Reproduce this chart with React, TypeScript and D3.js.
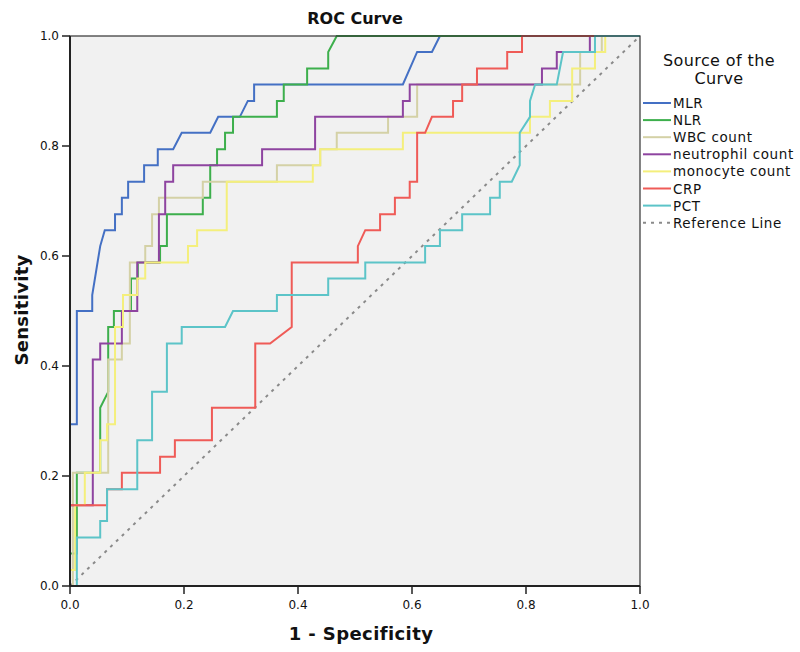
import React from "react";
import * as d3 from "d3";

type Pt = [number, number];

const seriesNames = ["MLR", "NLR", "WBC count", "neutrophil count", "monocyte count", "CRP", "PCT"];
const seriesColors = ["#4470C4", "#3DAF4C", "#D4D1A6", "#8E44A0", "#F4EF7C", "#EF5B57", "#5CC4C8"];

const mlr: Pt[] = [[0,0],[0,.294],[.012,.294],[.012,.5],[.039,.5],[.039,.529],[.053,.618],[.061,.647],[.079,.647],[.079,.676],[.091,.676],[.091,.706],[.102,.706],[.102,.735],[.130,.735],[.130,.765],[.154,.765],[.154,.794],[.181,.794],[.196,.824],[.246,.824],[.260,.853],[.298,.853],[.312,.882],[.323,.882],[.323,.912],[.584,.912],[.609,.971],[.635,.971],[.649,1],[1,1]];
const nlr: Pt[] = [[0,0],[0,.059],[.012,.059],[.012,.206],[.053,.206],[.053,.324],[.067,.353],[.067,.471],[.077,.471],[.077,.5],[.107,.5],[.107,.559],[.119,.559],[.119,.588],[.158,.588],[.158,.618],[.170,.618],[.170,.676],[.233,.676],[.233,.706],[.246,.706],[.246,.765],[.258,.765],[.258,.794],[.272,.794],[.272,.824],[.286,.824],[.286,.853],[.363,.853],[.363,.882],[.375,.882],[.375,.912],[.416,.912],[.416,.941],[.453,.941],[.453,.971],[.468,1],[1,1]];
const wbc: Pt[] = [[0,0],[.005,0],[.005,.206],[.067,.206],[.067,.412],[.091,.412],[.091,.441],[.105,.441],[.105,.588],[.132,.588],[.132,.618],[.144,.618],[.144,.676],[.156,.676],[.156,.706],[.233,.706],[.233,.735],[.363,.735],[.363,.765],[.439,.765],[.439,.794],[.468,.794],[.468,.824],[.558,.824],[.558,.853],[.609,.853],[.609,.912],[.895,.912],[.895,.971],[.933,.971],[.933,1],[1,1]];
const neutrophil: Pt[] = [[0,0],[0,.147],[.040,.147],[.040,.412],[.053,.412],[.053,.441],[.091,.441],[.091,.5],[.118,.5],[.118,.588],[.156,.588],[.156,.676],[.167,.676],[.167,.735],[.181,.735],[.181,.765],[.337,.765],[.337,.794],[.430,.794],[.430,.853],[.584,.853],[.584,.882],[.596,.882],[.596,.912],[.828,.912],[.828,.941],[.854,.941],[.854,.971],[.912,.971],[.912,1],[1,1]];
const monocyte: Pt[] = [[0,0],[0,.029],[.009,.029],[.009,.147],[.026,.147],[.026,.206],[.053,.206],[.053,.265],[.065,.265],[.065,.294],[.079,.294],[.079,.471],[.093,.471],[.093,.529],[.118,.529],[.118,.559],[.132,.559],[.132,.588],[.207,.588],[.207,.618],[.223,.618],[.223,.647],[.275,.647],[.275,.735],[.426,.735],[.426,.765],[.439,.765],[.439,.794],[.584,.794],[.584,.824],[.807,.824],[.807,.853],[.842,.853],[.842,.882],[.881,.882],[.881,.941],[.921,.941],[.921,.971],[.939,.971],[.939,1],[1,1]];
const crp: Pt[] = [[0,0],[0,.147],[.065,.147],[.065,.176],[.091,.176],[.091,.206],[.158,.206],[.158,.235],[.184,.235],[.184,.265],[.249,.265],[.249,.324],[.325,.324],[.325,.441],[.351,.441],[.389,.471],[.389,.588],[.505,.588],[.505,.618],[.518,.647],[.544,.647],[.544,.676],[.570,.676],[.570,.706],[.596,.706],[.596,.735],[.609,.735],[.609,.824],[.623,.824],[.635,.853],[.672,.853],[.672,.882],[.688,.882],[.688,.912],[.714,.912],[.714,.941],[.767,.941],[.767,.971],[.793,.971],[.793,1],[1,1]];
const pct: Pt[] = [[0,0],[.012,0],[.012,.088],[.053,.088],[.053,.118],[.065,.118],[.065,.176],[.118,.176],[.118,.265],[.144,.265],[.144,.353],[.170,.353],[.170,.441],[.196,.441],[.196,.471],[.272,.471],[.286,.5],[.363,.5],[.363,.529],[.453,.529],[.453,.559],[.518,.559],[.518,.588],[.623,.588],[.623,.618],[.649,.618],[.649,.647],[.688,.647],[.688,.676],[.737,.676],[.737,.706],[.754,.706],[.754,.735],[.775,.735],[.789,.765],[.789,.824],[.807,.853],[.807,.882],[.816,.912],[.854,.912],[.865,.971],[.921,.971],[.921,1],[1,1]];
const referenceLine: Pt[] = [[0,0],[1,1]];

const seriesData: Pt[][] = [mlr, nlr, wbc, neutrophil, monocyte, crp, pct];
const tickValues = [0, 0.2, 0.4, 0.6, 0.8, 1.0];

const W = 800, H = 652;
const plot = { left: 70, right: 640, top: 36, bottom: 586 };
const font = "'DejaVu Sans', Verdana, sans-serif";

export default function App() {
  const x = d3.scaleLinear().domain([0, 1]).range([plot.left, plot.right]);
  const y = d3.scaleLinear().domain([0, 1]).range([plot.bottom, plot.top]);
  const line = d3.line<Pt>().x(d => x(d[0])).y(d => y(d[1]));
  const legendX = 643;
  const legendY0 = 103;
  const legendStep = 17.1;

  return (
    <svg width={W} height={H} style={{ position: "absolute", left: 0, top: 0, background: "#fff" }}>
      <defs>
        <clipPath id="clip">
          <rect x={plot.left - 1} y={plot.top - 1} width={plot.right - plot.left + 2} height={plot.bottom - plot.top + 2} />
        </clipPath>
      </defs>
      <rect x={plot.left} y={plot.top} width={plot.right - plot.left} height={plot.bottom - plot.top} fill="#F1F1F1" />
      <text x={355} y={24} textAnchor="middle" fontFamily={font} fontWeight="bold" fontSize={16} fill="#111">ROC Curve</text>
      <g clipPath="url(#clip)">
        <path d={line(referenceLine) || ""} stroke="#8a8a8a" strokeWidth={2} strokeDasharray="3,5" fill="none" />
        {seriesData.map((s, i) => (
          <path key={i} d={line(s) || ""} stroke={seriesColors[i]} strokeWidth={2} fill="none" strokeLinejoin="miter" />
        ))}
      </g>
      <rect x={plot.left} y={plot.top} width={plot.right - plot.left} height={plot.bottom - plot.top} fill="none" stroke="#333" strokeWidth={1.2} />
      <line x1={plot.left} y1={plot.top} x2={plot.left} y2={plot.bottom} stroke="#222" strokeWidth={2} />
      <line x1={plot.left} y1={plot.bottom} x2={plot.right} y2={plot.bottom} stroke="#222" strokeWidth={2} />
      {tickValues.map(t => (
        <g key={"x" + t}>
          <line x1={x(t)} x2={x(t)} y1={plot.bottom} y2={plot.bottom + 8} stroke="#222" strokeWidth={1.5} />
          <text x={x(t)} y={609} textAnchor="middle" fontFamily={font} fontSize={12} fill="#111">{t.toFixed(1)}</text>
        </g>
      ))}
      {tickValues.map(t => (
        <g key={"y" + t}>
          <line x1={plot.left - 8} x2={plot.left} y1={y(t)} y2={y(t)} stroke="#222" strokeWidth={1.5} />
          <text x={plot.left - 11} y={y(t) + 4} textAnchor="end" fontFamily={font} fontSize={12} fill="#111">{t.toFixed(1)}</text>
        </g>
      ))}
      <text x={361} y={640} textAnchor="middle" fontFamily={font} fontWeight="bold" fontSize={18} letterSpacing={0.4} fill="#111">1 - Specificity</text>
      <text transform={`translate(28,310) rotate(-90)`} textAnchor="middle" fontFamily={font} fontWeight="bold" fontSize={18} letterSpacing={0.3} fill="#111">Sensitivity</text>
      <text x={719} y={66} textAnchor="middle" fontFamily={font} fontSize={16} letterSpacing={0.4} fill="#111">Source of the</text>
      <text x={719} y={84} textAnchor="middle" fontFamily={font} fontSize={16} letterSpacing={0.4} fill="#111">Curve</text>
      {seriesNames.map((n, i) => (
        <g key={n}>
          <line x1={legendX} x2={legendX + 28} y1={legendY0 + i * legendStep} y2={legendY0 + i * legendStep} stroke={seriesColors[i]} strokeWidth={2} />
          <text x={legendX + 30} y={legendY0 + i * legendStep + 5} fontFamily={font} fontSize={13.5} letterSpacing={0.6} fill="#111">{n}</text>
        </g>
      ))}
      <line x1={legendX} x2={legendX + 28} y1={legendY0 + 7 * legendStep} y2={legendY0 + 7 * legendStep} stroke="#8a8a8a" strokeWidth={2} strokeDasharray="3,5" />
      <text x={legendX + 30} y={legendY0 + 7 * legendStep + 5} fontFamily={font} fontSize={13.5} letterSpacing={0.6} fill="#111">Reference Line</text>
    </svg>
  );
}
